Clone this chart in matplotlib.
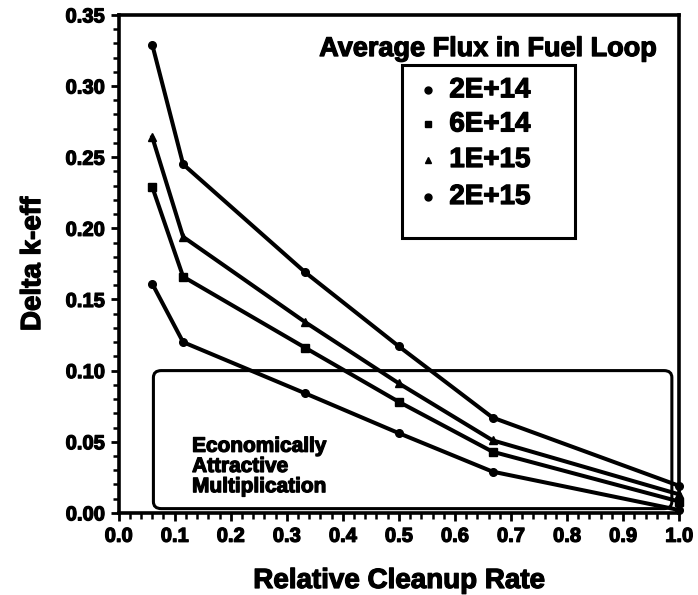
import matplotlib
matplotlib.use("Agg")
from matplotlib import pyplot as plt
from matplotlib.patches import FancyBboxPatch, Rectangle
from matplotlib.ticker import MultipleLocator
import matplotlib.patheffects as pe
import numpy as np

plt.rcParams['font.family'] = ['Liberation Sans', 'DejaVu Sans']
plt.rcParams['font.weight'] = 'bold'

# Relative cleanup rate vs delta k-eff, one curve per average flux
cleanup_rate = [0.06, 0.115, 0.333, 0.5, 0.667, 1.0]

flux_labels = ["2E+14", "6E+14", "1E+15", "2E+15"]
flux_markers = ["o", "s", "^", "o"]

dk_2e14 = [0.161, 0.120, 0.084, 0.056, 0.029, 0.002]
dk_6e14 = [0.229, 0.166, 0.116, 0.078, 0.043, 0.008]
dk_1e15 = [0.264, 0.194, 0.134, 0.091, 0.051, 0.013]
dk_2e15 = [0.329, 0.245, 0.169, 0.117, 0.067, 0.019]
series = [dk_2e14, dk_6e14, dk_1e15, dk_2e15]

heavy = [pe.withStroke(linewidth=0.9, foreground='black')]

fig = plt.figure(figsize=(6.98, 5.95), dpi=100)
ax = fig.add_axes([0.170, 0.138, 0.803, 0.837])

for vals, m in zip(series, flux_markers):
    ax.plot(cleanup_rate, vals, color='black', lw=2.9, marker=m, ms=5.5,
            clip_on=False, zorder=3)

ax.set_xlim(0, 1.0)
ax.set_ylim(0, 0.35)
ax.xaxis.set_major_locator(MultipleLocator(0.1))
ax.xaxis.set_minor_locator(MultipleLocator(0.02))
ax.yaxis.set_major_locator(MultipleLocator(0.05))
ax.yaxis.set_minor_locator(MultipleLocator(0.01))
ax.set_xticklabels([f"{v:.1f}" for v in ax.get_xticks()])
ax.set_yticklabels([f"{v:.2f}" for v in ax.get_yticks()])
ax.tick_params(which='major', direction='out', length=6, width=2, labelsize=14.5, pad=4)
ax.tick_params(which='minor', direction='out', length=4, width=1.8)
ax.tick_params(top=False, right=False, which='both')
for lab in ax.get_xticklabels() + ax.get_yticklabels():
    lab.set_path_effects(heavy)
for s in ax.spines.values():
    s.set_linewidth(2.6)

ax.set_xlabel("Relative Cleanup Rate", fontsize=20, fontweight='bold', labelpad=16,
              path_effects=heavy)
ax.set_ylabel("Delta k-eff", fontsize=20, fontweight='bold', labelpad=14,
              path_effects=heavy)

# economically attractive region
box = FancyBboxPatch((0.062, 0.003), 0.925, 0.097,
                     boxstyle="round,pad=0,rounding_size=0.014",
                     mutation_aspect=0.35, fill=False, lw=2.2, ec='black', zorder=2)
ax.add_patch(box)
ax.text(0.131, 0.0535, "Economically\nAttractive\nMultiplication", fontsize=15,
        fontweight='bold', va='top', ha='left', linespacing=1.08, path_effects=heavy)

# legend
ax.text(0.659, 0.326, "Average Flux in Fuel Loop", fontsize=19.5, fontweight='bold',
        ha='center', va='center', path_effects=heavy)
ax.add_patch(Rectangle((0.505, 0.193), 0.309, 0.122, fill=False, lw=2.2, ec='black',
                       zorder=2))
legend_y = [0.297, 0.273, 0.248, 0.222]
for lab, m, yy in zip(flux_labels, flux_markers, legend_y):
    ax.plot([0.552], [yy], marker=m, color='black', ms=5)
    ax.text(0.59, yy, lab, fontsize=20, fontweight='bold', va='center', ha='left',
            path_effects=heavy)

fig.savefig("out.png", dpi=100)
